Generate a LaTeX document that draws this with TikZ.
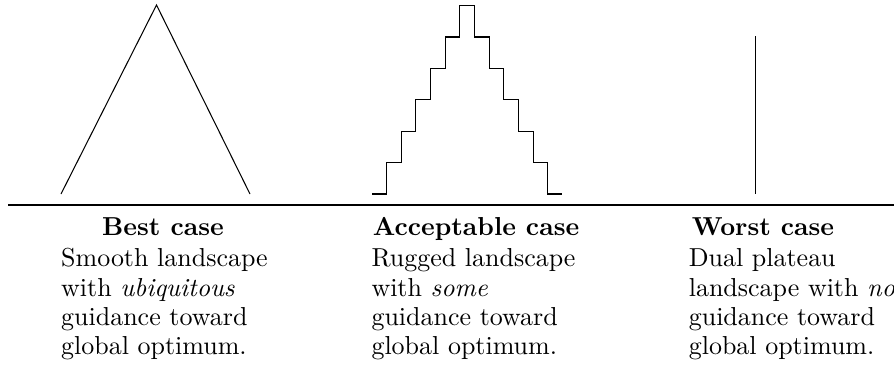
\documentclass[tikz,border=0pt]{standalone}
\begin{document}
\begin{tikzpicture}[x=0.385pt,y=-0.385pt,
  profile/.style={line width=0.4pt, line join=miter},
  rulebar/.style={line width=0.8pt},
  head/.style={font=\bfseries, anchor=base, inner sep=0pt},
  body/.style={anchor=base west, inner sep=0pt}]
\useasboundingbox (0,0) rectangle (894,371);

% smooth landscape: a single peak
\coordinate (s1) at (61,194);
\coordinate (s2) at (156.5,5);
\coordinate (s3) at (250,194);
\draw[profile] (s1) -- (s2) -- (s3);

% rugged landscape: a staircase peak
\def\w{14.65}
\def\h{31.4}
\coordinate (r0) at (372,194);
\draw[profile] (r0) -- ++(\w,0)
  \foreach \i in {1,...,6}{ -- ++(0,-\h) -- ++(\w,0) }
  \foreach \i in {1,...,6}{ -- ++(0,\h) -- ++(\w,0) };

% dual plateau: a single spike
\coordinate (d1) at (755.3,36);
\coordinate (d2) at (755.3,194);
\draw[profile] (d1) -- (d2);

% rule beneath the profiles
\coordinate (ruleL) at (8,205.3);
\coordinate (ruleR) at (900,205.3);
\draw[rulebar] (ruleL) -- (ruleR);

% captions
\node[head] (h1) at (163,235) {Best case};
\node[head] (h2) at (476,235) {Acceptable case};
\node[head] (h3) at (763,235) {Worst case};

% descriptions, one node per line
\def\la{266.7}\def\lb{296.1}\def\lc{325.5}\def\ld{354.9}
\node[body] (t1a) at (60.7,\la) {Smooth landscape};
\node[body] (t1b) at (60.7,\lb) {with \emph{ubiquitous}};
\node[body] (t1c) at (60.7,\lc) {guidance toward};
\node[body] (t1d) at (60.7,\ld) {global optimum.};

\node[body] (t2a) at (371,\la) {Rugged landscape};
\node[body] (t2b) at (371,\lb) {with \emph{some}};
\node[body] (t2c) at (371,\lc) {guidance toward};
\node[body] (t2d) at (371,\ld) {global optimum.};

\node[body] (t3a) at (688.3,\la) {Dual plateau};
\node[body] (t3b) at (688.3,\lb) {landscape with \emph{no}};
\node[body] (t3c) at (688.3,\lc) {guidance toward};
\node[body] (t3d) at (688.3,\ld) {global optimum.};
\end{tikzpicture}
\end{document}
